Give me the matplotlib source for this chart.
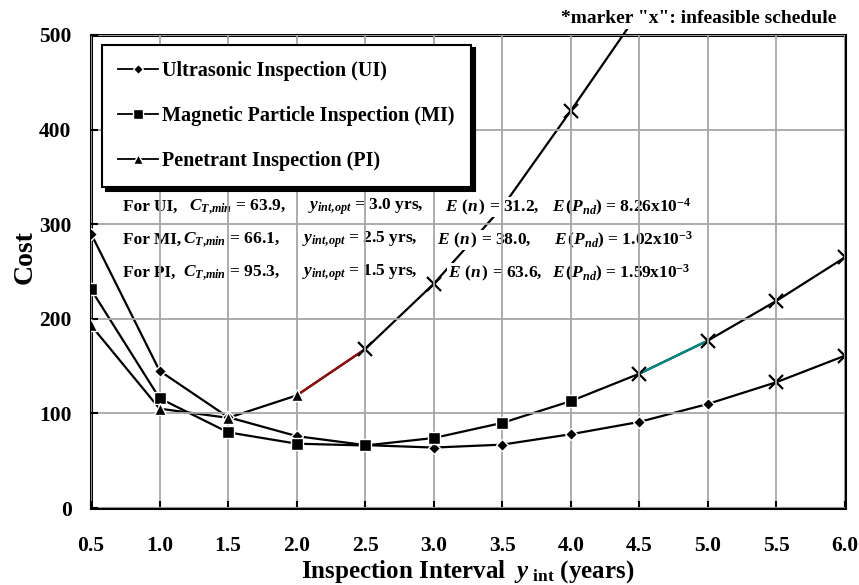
import matplotlib
matplotlib.use('Agg')
import matplotlib.pyplot as plt
from matplotlib.lines import Line2D

# inspection intervals (years)
intervals = [0.5, 1.0, 1.5, 2.0, 2.5, 3.0, 3.5, 4.0, 4.5, 5.0, 5.5, 6.0]

# expected total cost
ui_cost = [290, 145, 96, 76, 66.5, 63.9, 67, 78, 91, 110, 133, 161]
mi_cost = [231, 116, 80, 68, 66.1, 74, 90, 113, 142, 177, 219, 265]
pi_cost = [193, 105, 95.3, 119, 168, 237, 318, 420, 525]

# number of feasible points at the start of each series (rest are "x")
ui_feasible = 10
mi_feasible = 8
pi_feasible = 4

labels = ['Ultrasonic Inspection (UI)',
          'Magnetic Particle Inspection (MI)',
          'Penetrant Inspection (PI)']
summary = [
    ['For UI,', r'$C_{T{,}min}$ = 63.9,', r'$y_{int{,}opt}$ = 3.0 yrs,',
     r'$E\ (n\,)$ = 31.2,', r'$E\,(P_{nd})$ = 8.26x10$^{-4}$'],
    ['For MI,', r'$C_{T{,}min}$ = 66.1,', r'$y_{int{,}opt}$ = 2.5 yrs,',
     r'$E\ (n\,)$ = 38.0,', r'$E\,(P_{nd})$ = 1.02x10$^{-3}$'],
    ['For PI,', r'$C_{T{,}min}$ = 95.3,', r'$y_{int{,}opt}$ = 1.5 yrs,',
     r'$E\ (n\,)$ = 63.6,', r'$E\,(P_{nd})$ = 1.59x10$^{-3}$'],
]

plt.rcParams['font.family'] = ['Liberation Serif', 'DejaVu Serif']
plt.rcParams['font.weight'] = 'bold'
plt.rcParams['mathtext.fontset'] = 'custom'
plt.rcParams['mathtext.rm'] = 'Liberation Serif:bold'
plt.rcParams['mathtext.it'] = 'Liberation Serif:italic:bold'
plt.rcParams['mathtext.bf'] = 'Liberation Serif:bold'

fig = plt.figure(figsize=(8.59, 5.85), dpi=100)
ax = fig.add_axes([0.106, 0.1316, 0.8777, 0.8086])

LINE_Z = 2.1
MARK_Z = 3


def draw_series(x, y, n_ok, marker, msize, seg=None, seg_color=None):
    ax.plot(x, y, color='black', lw=1.6, zorder=LINE_Z, clip_on=False,
            solid_capstyle='butt')
    if seg is not None:
        i = seg
        ax.plot(x[i:i + 2], y[i:i + 2], color=seg_color, lw=1.6,
                zorder=LINE_Z + 0.01, clip_on=False)
    ax.plot(x[:n_ok], y[:n_ok], ls='none', marker=marker, ms=msize,
            mfc='black', mec='white', mew=1.0, zorder=MARK_Z)
    # infeasible markers sit under the text boxes
    ax.plot(x[n_ok:], y[n_ok:], ls='none', marker='x', ms=10,
            mec='black', mew=1.6, zorder=LINE_Z + 0.05)


draw_series(intervals, ui_cost, ui_feasible, 'D', 6.5)
draw_series(intervals, mi_cost, mi_feasible, 's', 8, seg=8, seg_color='#008B8B')
draw_series(intervals[:len(pi_cost)], pi_cost, pi_feasible, '^', 8.5,
            seg=3, seg_color='#9B0A0A')

ax.set_xlim(0.5, 6.0)
ax.set_ylim(0, 500)
ax.set_xticks(intervals)
ax.set_xticklabels([f'{v:.1f}' for v in intervals])
ax.set_yticks(range(0, 501, 100))
ax.set_axisbelow(False)
ax.grid(True, color='#a6a6a6', lw=1.3)
ax.tick_params(direction='in', length=5, width=1.5, labelsize=15.5)
ax.tick_params(axis='x', pad=20)
ax.tick_params(axis='y', pad=14)
for s in ax.spines.values():
    s.set_linewidth(2.2)

ax.set_ylabel('Cost', fontsize=20, fontweight='bold')
ax.yaxis.set_label_coords(-0.071, 0.531)
ax.set_xlabel(r'Inspection Interval  $y_{\ \mathbf{int}}$ (years)',
              fontsize=18, fontweight='bold', labelpad=2)

handles = [
    Line2D([], [], color='black', lw=1.3, marker='D', ms=5, mfc='black', mec='white'),
    Line2D([], [], color='black', lw=1.3, marker='s', ms=7, mfc='black', mec='white'),
    Line2D([], [], color='black', lw=1.3, marker='^', ms=7, mfc='black', mec='white'),
]
leg = ax.legend(handles, labels, loc='upper left', bbox_to_anchor=(0.0146, 0.979),
                borderaxespad=0, fontsize=14.5, frameon=True, fancybox=False,
                labelspacing=1.25, handlelength=2.0, handletextpad=0.2,
                borderpad=0.8, shadow={'ox': 2.5, 'oy': -2.5, 'color': 'black', 'alpha': 1})
leg.get_frame().set_edgecolor('black')
leg.get_frame().set_linewidth(1.5)
leg.set_zorder(6)

col_x = [[123, 189, 308, 445, 552],
         [123, 183, 302, 437, 554],
         [123, 183, 302, 448, 552]]
row_y = [207, 240, 273]
for r, row in enumerate(summary):
    ty = (508 - row_y[r]) / 473
    for c, piece in enumerate(row):
        tx = (col_x[r][c] - 91) / 754
        ax.text(tx, ty, piece, transform=ax.transAxes, fontsize=12.5,
                va='center', ha='left', zorder=2.2,
                bbox=dict(facecolor='white', edgecolor='none', pad=0.5))

ax.text(0.988, 1.035, '*marker "x": infeasible schedule', transform=ax.transAxes,
        fontsize=14, ha='right', va='center', zorder=7,
        bbox=dict(facecolor='white', edgecolor='none', pad=1.5))

fig.savefig('out.png', dpi=100)
